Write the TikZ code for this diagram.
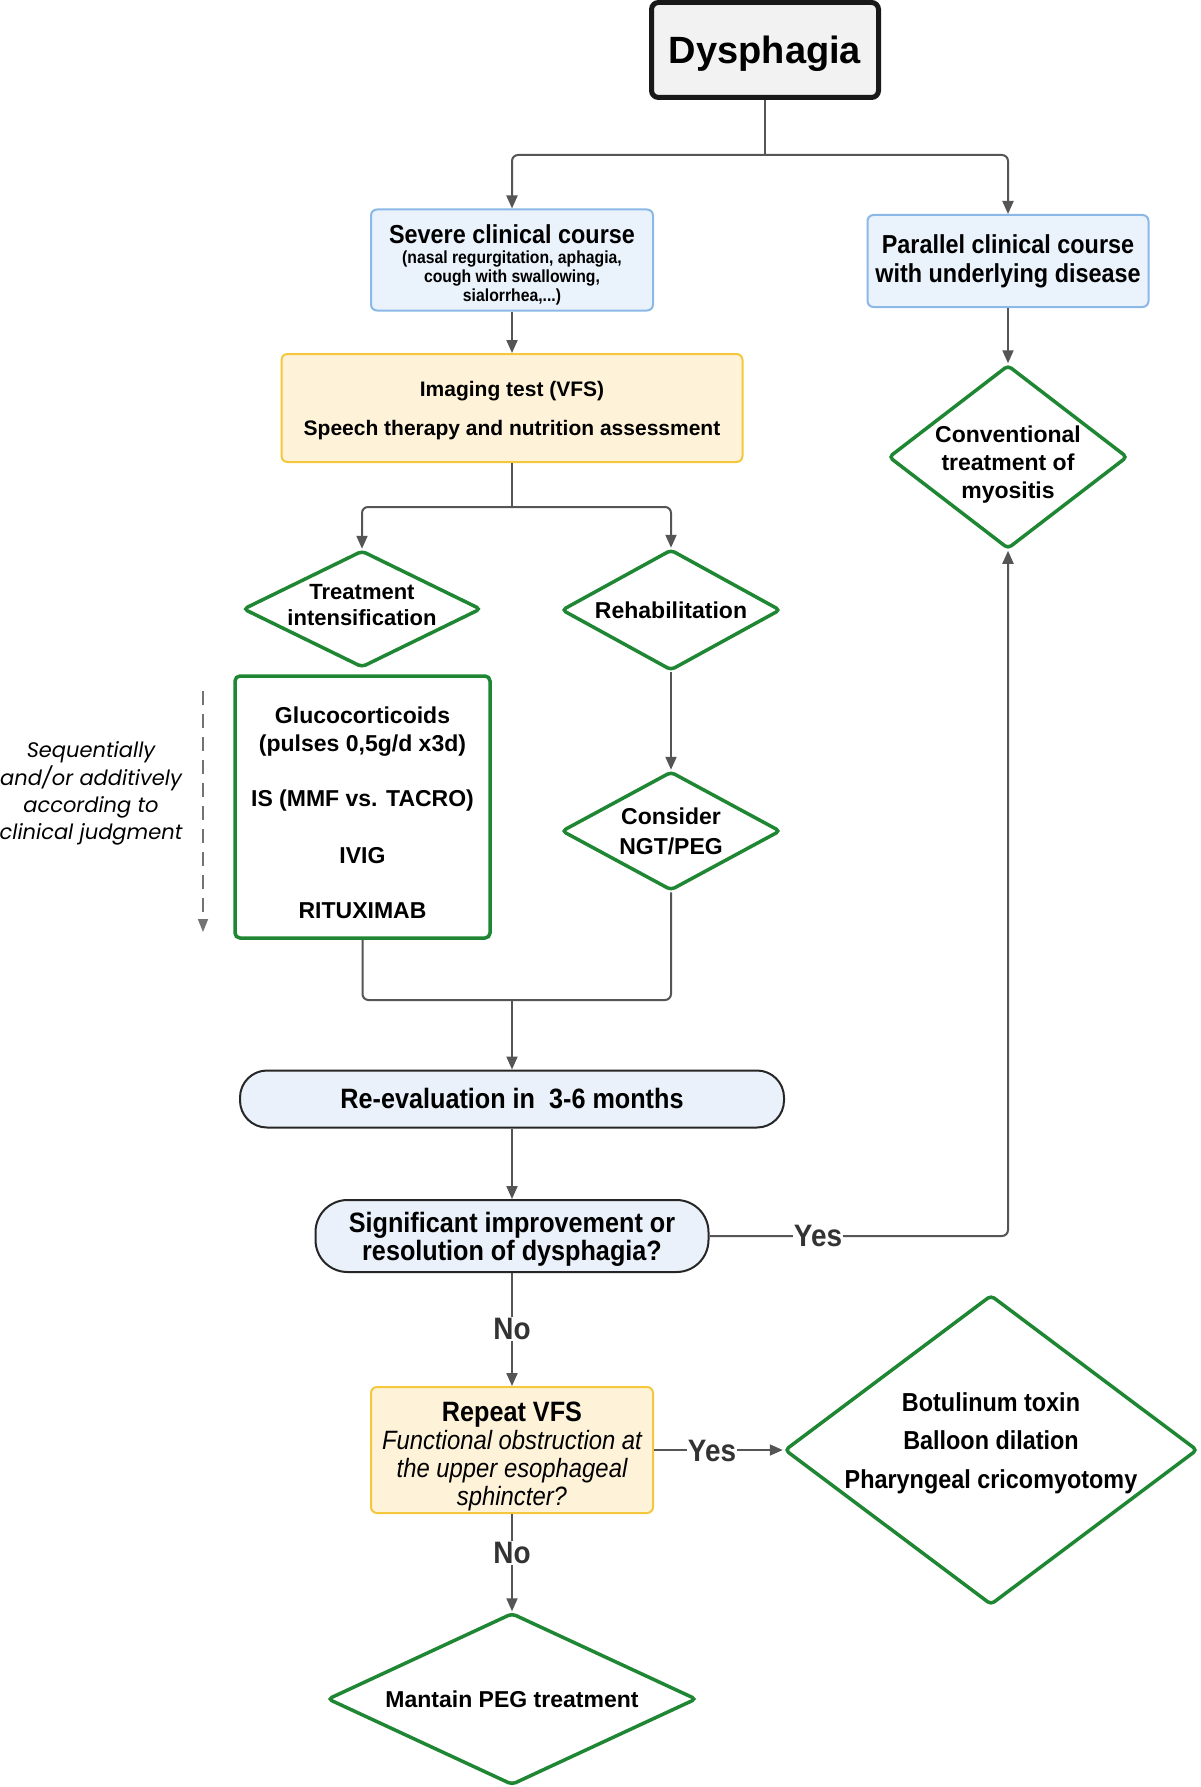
\documentclass[tikz,border=0pt]{standalone}
\usepackage{fontspec}
\setmainfont{Liberation Sans}
\newfontfamily\narrowf[FakeStretch=0.9]{Liberation Sans}
\newfontfamily\poppf{Poppins}
\usetikzlibrary{arrows.meta,shapes.geometric,calc}
\definecolor{bluefill}{HTML}{EAF2FC}
\definecolor{blueline}{HTML}{8CB8E8}
\definecolor{yelfill}{HTML}{FEF3D9}
\definecolor{yelline}{HTML}{F5C73D}
\definecolor{grn}{HTML}{1F8733}
\definecolor{conn}{HTML}{555555}
\definecolor{grayfill}{HTML}{F2F2F2}
\definecolor{revfill}{HTML}{EAF1FA}
\tikzset{
  bluebox/.style={draw=blueline, fill=bluefill, line width=2, rounded corners=6, inner sep=0, align=center},
  yelbox/.style={draw=yelline, fill=yelfill, line width=2, rounded corners=6, inner sep=0, align=center},
  grnbox/.style={draw=grn, fill=white, line width=3.5, rounded corners=5, inner sep=0, align=center},
  dia/.style={diamond, draw=grn, fill=white, line width=3.5, rounded corners=4, inner sep=0},
  pill/.style={draw=black!85, fill=revfill, line width=2, inner sep=0, align=center},
  dtext/.style={align=center, inner sep=0, font=\bfseries\fontsize{23}{28}\selectfont},
  ntext/.style={align=center, inner sep=0, font=\narrowf\bfseries\fontsize{26}{29}\selectfont},
  line/.style={draw=conn, line width=2, rounded corners=6},
  arr/.style={line, -{Triangle[length=13, width=11]}},
  lbl/.style={fill=white, inner sep=1, font=\narrowf\bfseries\fontsize{31}{33}\selectfont, text=black!80}
}
\begin{document}
\begin{tikzpicture}[x=1pt,y=-1pt]
\useasboundingbox (0,0) rectangle (1200,1787);
\fill[white] (0,0) rectangle (1200,1787);

% top
\node[draw=black!90, fill=grayfill, line width=5, rounded corners=7, minimum width=227, minimum height=95] (dys) at (765,50) {};
\node[inner sep=0, font=\bfseries\fontsize{38}{40}\selectfont] (dysT) at (765,53.5) {Dysphagia};

\node[bluebox, minimum width=282, minimum height=101] (severe) at (512,260) {};
\node[ntext, font=\narrowf\bfseries\fontsize{17.5}{19}\selectfont] (severeT) at (512,265)
  {{\fontsize{26}{29}\selectfont Severe clinical course}\\[1pt](nasal regurgitation, aphagia,\\cough with swallowing,\\sialorrhea,...)};

\node[bluebox, minimum width=281, minimum height=92, font=\narrowf\bfseries\fontsize{26}{29}\selectfont] (parallel) at (1008,261)
  {Parallel clinical course\\with underlying disease};

\node[yelbox, minimum width=461, minimum height=108] (imaging) at (512,408) {};
\node[dtext, font=\bfseries\fontsize{21}{26}\selectfont] (imagingT) at (512,411)
  {Imaging test (VFS)\\[13pt]Speech therapy and nutrition assessment};

% diamonds
\node[dia, minimum width=238, minimum height=117] (ti) at (362,609) {};
\node[dtext, font=\bfseries\fontsize{22}{26}\selectfont] (tiT) at (362,605.5) {Treatment\\intensification};

\node[dia, minimum width=219, minimum height=121] (rehab) at (671,610) {};
\node[dtext] (rehabT) at (rehab) {Rehabilitation};

\node[dia, minimum width=219, minimum height=119] (consider) at (671,831) {};
\node[dtext, font=\bfseries\fontsize{23}{30}\selectfont] (considerT) at (consider) {Consider\\NGT/PEG};

\node[dia, minimum width=239, minimum height=184] (conv) at (1008,457) {};
\node[dtext] (convT) at (1008,465) {Conventional\\treatment of\\myositis};

% treatment box
\node[grnbox, minimum width=255, minimum height=262] (gluco) at (362.5,807) {};
\node[dtext] (glucoT1) at (362.5,732) {Glucocorticoids\\(pulses 0,5g/d x3d)};
\node[dtext] (glucoT2) at (362.5,801) {IS (MMF vs. TACRO)};
\node[dtext] (glucoT3) at (362.5,856) {IVIG};
\node[dtext] (glucoT4) at (362.5,911) {RITUXIMAB};

% side note
\coordinate (da1) at (203,691);
\coordinate (da2) at (203,932);
\draw[draw=black!55, line width=1.6, dash pattern=on 14 off 9, -{Triangle[length=13, width=10]}] (da1) -- (da2);
\node[align=center, inner sep=0, font=\poppf\itshape\fontsize{21}{27.3}\selectfont] (seq) at (91,793.5)
  {Sequentially\\and/or additively\\according to\\clinical judgment};

% re-evaluation
\node[pill, rounded corners=27, minimum width=544, minimum height=57, font=\narrowf\bfseries\fontsize{28}{30}\selectfont] (reeval) at (512,1099) {Re-evaluation in\ \ 3-6 months};

\node[pill, rounded corners=32, minimum width=393, minimum height=72] (signif) at (512,1236) {};
\node[ntext, font=\narrowf\bfseries\fontsize{28}{28}\selectfont] (signifT) at (512,1239.5) {Significant improvement or\\resolution of dysphagia?};

\node[yelbox, minimum width=282, minimum height=126] (repeat) at (512,1450) {};
\node[ntext, font=\narrowf\itshape\fontsize{26.5}{28}\selectfont] (repeatT) at (512,1456)
  {{\upshape\bfseries\fontsize{28}{28}\selectfont Repeat VFS}\\Functional obstruction at\\the upper esophageal\\sphincter?};

\node[dia, minimum width=413, minimum height=310] (botul) at (991,1450) {};
\node[dtext, font=\narrowf\bfseries\fontsize{26}{38.5}\selectfont] (botulT) at (991,1443) {Botulinum toxin\\Balloon dilation\\Pharyngeal cricomyotomy};

\node[dia, minimum width=369, minimum height=172] (mantain) at (512,1699) {};
\node[dtext] (mantainT) at (mantain) {Mantain PEG treatment};

% connectors
\coordinate (j1) at (765,155);
\draw[line] (dys.south) -- (j1);
\draw[arr] (j1) -| (severe.north);
\draw[arr] (j1) -| (parallel.north);
\draw[arr] (severe.south) -- (imaging.north);
\draw[arr] (parallel.south) -- (conv.north);

\coordinate (j2) at (512,507);
\draw[line] (imaging.south) -- (j2);
\draw[arr] (j2) -| (ti.north);
\draw[arr] (j2) -| (rehab.north);
\draw[arr] (rehab.south) -- (consider.north);

\coordinate (j3) at (512,1000);
\draw[line] (gluco.south) |- (j3);
\draw[line] (consider.south) |- (j3);
\draw[arr] (j3) -- (reeval.north);
\draw[arr] (reeval.south) -- (signif.north);

\coordinate (c1) at (conv.south |- signif.east);
\draw[arr] (signif.east) -- (c1) -- (conv.south);
\node[lbl] (yes1) at (818,1236) {Yes};

\draw[arr] (signif.south) -- (repeat.north);
\node[lbl] (no1) at (512,1329) {No};

\draw[arr] (repeat.east) -- (botul.west);
\node[lbl] (yes2) at (712,1451) {Yes};

\draw[arr] (repeat.south) -- (mantain.north);
\node[lbl] (no2) at (512,1553) {No};
\end{tikzpicture}
\end{document}
